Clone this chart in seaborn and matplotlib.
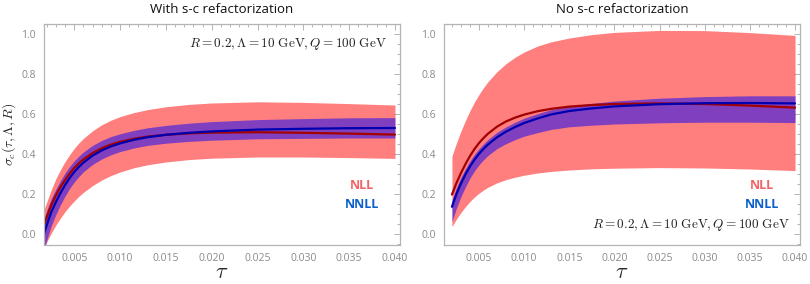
import matplotlib
matplotlib.use("Agg")
import matplotlib.pyplot as plt
from matplotlib.ticker import MultipleLocator
import pandas as pd
import seaborn as sns

# left panel: with s-c refactorization
tau_left = [0.0017, 0.002, 0.0025, 0.003, 0.0035, 0.004, 0.0045, 0.005, 0.0055,
            0.006, 0.007, 0.008, 0.009, 0.010, 0.0115, 0.013, 0.015, 0.0175,
            0.020, 0.025, 0.030, 0.035, 0.040]
nll_up_left = [0.12, 0.16, 0.222, 0.277, 0.322, 0.362, 0.397, 0.428, 0.455,
               0.478, 0.516, 0.546, 0.569, 0.587, 0.607, 0.622, 0.636, 0.648,
               0.655, 0.661, 0.658, 0.652, 0.645]
nll_lo_left = [-0.07, -0.04, 0.005, 0.045, 0.08, 0.112, 0.14, 0.165, 0.188,
               0.208, 0.242, 0.27, 0.292, 0.31, 0.331, 0.346, 0.36, 0.372,
               0.379, 0.385, 0.385, 0.382, 0.378]
nll_mid_left = [0.045, 0.085, 0.145, 0.193, 0.235, 0.27, 0.302, 0.33, 0.353,
                0.373, 0.405, 0.429, 0.447, 0.461, 0.476, 0.487, 0.496, 0.503,
                0.507, 0.509, 0.506, 0.502, 0.497]
nnll_up_left = [0.075, 0.117, 0.178, 0.225, 0.267, 0.305, 0.338, 0.366, 0.389,
                0.41, 0.443, 0.468, 0.487, 0.501, 0.518, 0.531, 0.543, 0.554,
                0.562, 0.572, 0.577, 0.581, 0.582]
nnll_lo_left = [-0.085, -0.03, 0.042, 0.098, 0.147, 0.19, 0.228, 0.26, 0.287,
                0.311, 0.348, 0.375, 0.396, 0.412, 0.43, 0.443, 0.454, 0.463,
                0.469, 0.476, 0.478, 0.48, 0.48]
nnll_mid_left = [0.0, 0.045, 0.11, 0.16, 0.205, 0.245, 0.28, 0.31, 0.335,
                 0.357, 0.392, 0.418, 0.438, 0.453, 0.471, 0.484, 0.496, 0.506,
                 0.513, 0.522, 0.526, 0.529, 0.53]

# right panel: no s-c refactorization
tau_right = [0.002, 0.0025, 0.003, 0.0035, 0.004, 0.0045, 0.005, 0.0055, 0.006,
             0.007, 0.008, 0.009, 0.010, 0.0115, 0.013, 0.015, 0.0175, 0.020,
             0.025, 0.030, 0.035, 0.040]
nll_up_right = [0.39, 0.455, 0.515, 0.568, 0.617, 0.66, 0.698, 0.732, 0.762,
                0.812, 0.852, 0.884, 0.91, 0.94, 0.961, 0.98, 0.997, 1.008,
                1.018, 1.017, 1.007, 0.993]
nll_lo_right = [0.037, 0.075, 0.108, 0.137, 0.163, 0.185, 0.204, 0.22, 0.234,
                0.256, 0.272, 0.284, 0.294, 0.305, 0.313, 0.32, 0.326, 0.329,
                0.332, 0.33, 0.325, 0.317]
nll_mid_right = [0.197, 0.255, 0.305, 0.35, 0.39, 0.425, 0.455, 0.48, 0.502,
                 0.537, 0.563, 0.582, 0.597, 0.614, 0.626, 0.637, 0.645, 0.65,
                 0.653, 0.65, 0.642, 0.632]
nnll_up_right = [0.17, 0.232, 0.283, 0.327, 0.366, 0.399, 0.427, 0.451, 0.473,
                 0.509, 0.536, 0.559, 0.579, 0.602, 0.622, 0.639, 0.653, 0.665,
                 0.679, 0.687, 0.691, 0.691]
nnll_lo_right = [0.062, 0.13, 0.187, 0.236, 0.28, 0.316, 0.346, 0.371, 0.393,
                 0.427, 0.452, 0.472, 0.489, 0.507, 0.523, 0.536, 0.544, 0.55,
                 0.556, 0.559, 0.559, 0.557]
nnll_mid_right = [0.136, 0.2, 0.253, 0.298, 0.338, 0.372, 0.401, 0.426, 0.448,
                  0.484, 0.512, 0.535, 0.555, 0.578, 0.598, 0.615, 0.628, 0.638,
                  0.649, 0.654, 0.655, 0.653]

titles = ["With s-c refactorization", "No s-c refactorization"]
x_ticks = [0.005, 0.010, 0.015, 0.020, 0.025, 0.030, 0.035, 0.040]
x_ticklabels = ["0.005", "0.010", "0.015", "0.020", "0.025", "0.030", "0.035", "0.040"]
params_text = r"$R=0.2, \Lambda=10\ \mathrm{GeV}, Q=100\ \mathrm{GeV}$"

sns.set_style("white")
plt.rcParams["mathtext.fontset"] = "cm"
plt.rcParams["font.family"] = ["Open Sans", "DejaVu Sans"]

frame_col = "#b4b4b4"
tick_col = "#8a8a8a"


def draw_panel(ax, tau, nll_up, nll_lo, nll_mid, nnll_up, nnll_lo, nnll_mid,
               xmin, title, text_top):
    ax.fill_between(tau, nll_lo, nll_up, color="red", alpha=0.5, lw=0)
    ax.fill_between(tau, nnll_lo, nnll_up, color="blue", alpha=0.5, lw=0)

    lines = pd.DataFrame({
        "tau": list(tau) * 2,
        "sigma": list(nll_mid) + list(nnll_mid),
        "order": ["NLL"] * len(tau) + ["NNLL"] * len(tau),
    })
    sns.lineplot(data=lines, x="tau", y="sigma", hue="order",
                 palette={"NLL": "#a30000", "NNLL": "#0000b0"},
                 lw=1.6, legend=False, ax=ax, sort=False)

    ax.set_xlim(xmin, 0.04055)
    ax.set_ylim(-0.055, 1.05)
    ax.xaxis.set_minor_locator(MultipleLocator(0.001))
    ax.yaxis.set_major_locator(MultipleLocator(0.2))
    ax.yaxis.set_minor_locator(MultipleLocator(0.05))
    ax.set_xticks(x_ticks)
    ax.set_xticklabels(x_ticklabels)
    ax.tick_params(which="both", direction="in", top=True, right=True,
                   color=frame_col, labelcolor=tick_col, labelsize=7.5,
                   width=0.7, pad=6)
    ax.tick_params(which="major", length=4)
    ax.tick_params(which="minor", length=2)
    for sp in ax.spines.values():
        sp.set_color(frame_col)
        sp.set_linewidth(0.9)

    ax.set_title(title, fontsize=9.5, color="#111111", pad=8)
    ax.set_xlabel(r"$\tau$", fontsize=16, va="center")
    ax.xaxis.set_label_coords(0.5, -0.125)
    ax.set_ylabel("")

    ax.text(0.893, 0.271, "NLL", color="#f06464", fontweight="bold",
            fontsize=9, ha="center", va="center", transform=ax.transAxes)
    ax.text(0.893, 0.181, "NNLL", color="#0a5fcc", fontweight="bold",
            fontsize=9, ha="center", va="center", transform=ax.transAxes)
    if text_top:
        ax.text(0.963, 0.91, params_text, fontsize=9.5, color="#222222",
                ha="right", va="center", transform=ax.transAxes)
    else:
        ax.text(0.972, 0.09, params_text, fontsize=9.5, color="#222222",
                ha="right", va="center", transform=ax.transAxes)


fig = plt.figure(figsize=(8.1, 2.84), dpi=100)
ax_l = fig.add_axes([44 / 810, 1 - 245 / 284, 356 / 810, 221 / 284])
ax_r = fig.add_axes([444 / 810, 1 - 245 / 284, 356 / 810, 221 / 284])

draw_panel(ax_l, tau_left, nll_up_left, nll_lo_left, nll_mid_left,
           nnll_up_left, nnll_lo_left, nnll_mid_left, 0.0017, titles[0], True)
draw_panel(ax_r, tau_right, nll_up_right, nll_lo_right, nll_mid_right,
           nnll_up_right, nnll_lo_right, nnll_mid_right, 0.00112, titles[1], False)

ax_l.set_ylabel(r"$\sigma_c(\tau,\Lambda,R)$", fontsize=10)
ax_l.yaxis.set_label_coords(-0.072, 0.5)

fig.savefig("out.png", dpi=100)
